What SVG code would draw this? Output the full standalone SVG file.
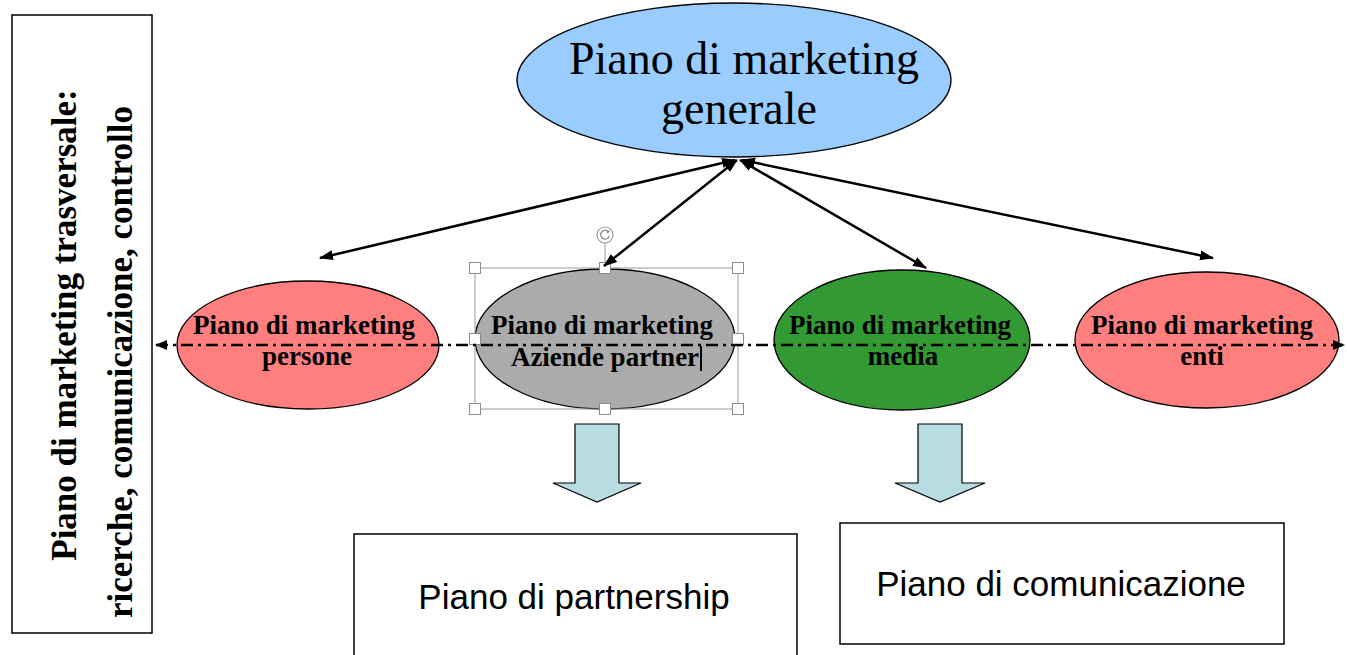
<svg xmlns="http://www.w3.org/2000/svg" width="1347" height="655" viewBox="0 0 1347 655">
  <defs>
    <marker id="tip" viewBox="0 0 14 10" refX="13" refY="5" markerWidth="14" markerHeight="10" markerUnits="userSpaceOnUse" orient="auto-start-reverse">
      <path d="M0,0 L14,5 L0,10 z" fill="#000"/>
    </marker>
    <marker id="tipSmall" viewBox="0 0 12 10" refX="11" refY="5" markerWidth="12" markerHeight="10" markerUnits="userSpaceOnUse" orient="auto-start-reverse">
      <path d="M0,0 L12,5 L0,10 z" fill="#000"/>
    </marker>
  </defs>
  <style>
    .shape { stroke: #000; stroke-width: 1.3; }
    .box { fill: #fff; stroke: #000; stroke-width: 1.5; }
    .serif { font-family: "Liberation Serif", "Times New Roman", serif; fill: #000; text-anchor: middle; }
    .bold { font-weight: bold; }
    .sans { font-family: "Liberation Sans", Arial, sans-serif; fill: #000; text-anchor: middle; }
    .link { stroke: #000; stroke-width: 2.5; fill: none; marker-start: url(#tip); marker-end: url(#tip); }
    .axis { stroke: #000; stroke-width: 2.5; fill: none; stroke-dasharray: 12 5 3 5; marker-start: url(#tipSmall); marker-end: url(#tipSmall); }
    .block { fill: #B7DDE3; stroke: #000; stroke-width: 1.2; }
    .handle { fill: #fff; stroke: #8c8c8c; stroke-width: 1; }
  </style>
  <rect width="1347" height="655" fill="#fff"/>

  <!-- vertical side panel -->
  <g id="trasversale">
    <rect class="box" x="12" y="15" width="140" height="618"/>
    <text class="serif bold" font-size="35" transform="translate(76,325) rotate(-90)">Piano di marketing trasversale:</text>
    <text class="serif bold" font-size="35" transform="translate(132,362) rotate(-90)">ricerche, comunicazione, controllo</text>
  </g>

  <!-- main plan -->
  <g id="generale">
    <ellipse class="shape" cx="734" cy="80" rx="217" ry="77" fill="#99CCFF"/>
    <text class="serif" font-size="46" x="744" y="74">Piano di marketing</text>
    <text class="serif" font-size="46" x="739" y="124">generale</text>
  </g>

  <!-- sub plans -->
  <g id="persone">
    <ellipse class="shape" cx="308" cy="345" rx="131" ry="64" fill="#FF7F7F"/>
    <text class="serif bold" font-size="27" x="304" y="334">Piano di marketing</text>
    <text class="serif bold" font-size="27" x="307" y="365">persone</text>
  </g>

  <g id="aziende">
    <ellipse class="shape" cx="605" cy="339" rx="130" ry="70" fill="#ABABAB"/>
    <text class="serif bold" font-size="27" x="602" y="334">Piano di marketing</text>
    <text class="serif bold" font-size="27" x="605" y="366">Aziende partner</text>
    <!-- editing cursor and selection frame -->
    <line x1="701" y1="346" x2="701" y2="371" stroke="#000" stroke-width="2"/>
    <rect x="475" y="268" width="263" height="141" fill="none" stroke="#9a9a9a" stroke-width="1"/>
    <line x1="605" y1="243" x2="605" y2="263" stroke="#9a9a9a" stroke-width="1"/>
    <circle cx="605" cy="235" r="8" fill="#fff" stroke="#9a9a9a" stroke-width="1.2"/>
    <path d="M608.5,231.5 A4.5,4.5 0 1 0 609.5,236" fill="none" stroke="#8c8c8c" stroke-width="1.3"/>
    <path d="M606.5,229.5 L610,231.5 L607,233.5 z" fill="#8c8c8c"/>
    <rect class="handle" x="469.5" y="262.5" width="11" height="11"/>
    <rect class="handle" x="599.5" y="262.5" width="11" height="11"/>
    <rect class="handle" x="732.5" y="262.5" width="11" height="11"/>
    <rect class="handle" x="469.5" y="333.5" width="11" height="11"/>
    <rect class="handle" x="732.5" y="333.5" width="11" height="11"/>
    <rect class="handle" x="469.5" y="403.5" width="11" height="11"/>
    <rect class="handle" x="599.5" y="403.5" width="11" height="11"/>
    <rect class="handle" x="732.5" y="403.5" width="11" height="11"/>
  </g>

  <g id="media">
    <ellipse class="shape" cx="902" cy="340" rx="128" ry="70" fill="#339933"/>
    <text class="serif bold" font-size="27" x="900" y="334">Piano di marketing</text>
    <text class="serif bold" font-size="27" x="903" y="365">media</text>
  </g>

  <g id="enti">
    <ellipse class="shape" cx="1207" cy="340" rx="132" ry="68" fill="#FF7F7F"/>
    <text class="serif bold" font-size="27" x="1202" y="334">Piano di marketing</text>
    <text class="serif bold" font-size="27" x="1202" y="365">enti</text>
  </g>

  <!-- output plans -->
  <g id="partnership">
    <rect class="box" x="354" y="534" width="443" height="130"/>
    <text class="sans" font-size="35" x="574" y="609">Piano di partnership</text>
  </g>

  <g id="comunicazione">
    <rect class="box" x="840" y="523" width="444" height="121"/>
    <text class="sans" font-size="35" x="1061" y="596">Piano di comunicazione</text>
  </g>

  <!-- connectors -->
  <g id="connectors">
    <line class="link" x1="320" y1="258" x2="735" y2="160"/>
    <line class="link" x1="604" y1="266" x2="737" y2="160"/>
    <line class="link" x1="926" y1="268" x2="740" y2="160"/>
    <line class="link" x1="1213" y1="258" x2="742" y2="160"/>
    <line class="axis" x1="156" y1="345" x2="1344" y2="345"/>
    <polygon class="block" points="575,424 619,424 619,483 641,483 597,502 553,483 575,483"/>
    <polygon class="block" points="918,424 962,424 962,483 985,483 940,502 895,483 918,483"/>
  </g>
</svg>
